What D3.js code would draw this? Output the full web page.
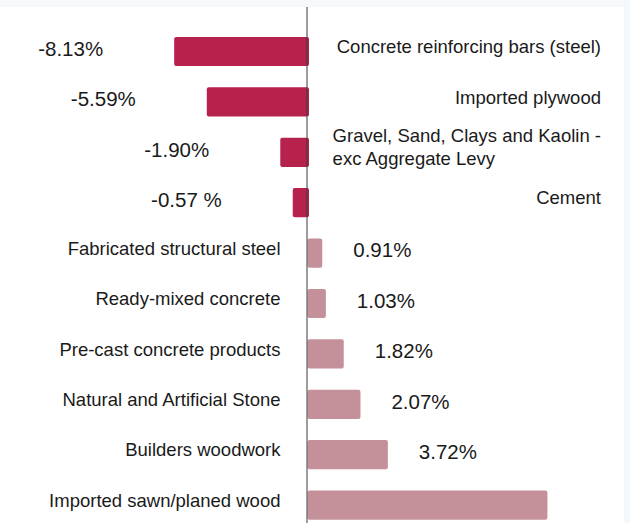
<!DOCTYPE html>
<html>
<head>
<meta charset="utf-8">
<script src="https://cdn.jsdelivr.net/npm/d3@7"></script>
<style>
    body { margin: 0; background: #f6f9fb; }
    #chart text { font-family: "Liberation Sans", Arial, sans-serif; fill: #1a1a1a; }
</style>
</head>
<body>
<div id="chart"></div>
<script>
// Categories, top to bottom
const categories = [
    "Concrete reinforcing bars (steel)",
    "Imported plywood",
    "Gravel, Sand, Clays and Kaolin -\nexc Aggregate Levy",
    "Cement",
    "Fabricated structural steel",
    "Ready-mixed concrete",
    "Pre-cast concrete products",
    "Natural and Artificial Stone",
    "Builders woodwork",
    "Imported sawn/planed wood"
];
// Bar lengths as drawn
const barValues = [-8.13, -6.14, -1.66, -0.90, 0.90, 1.12, 2.21, 3.23, 4.90, 14.63];
// Printed value labels
const valueLabels = ["-8.13%", "-5.59%", "-1.90%", "-0.57 %", "0.91%", "1.03%", "1.82%", "2.07%", "3.72%", null];

const width = 630, height = 523;

const svg = d3.select('#chart')
    .append('svg')
    .attr('width', width)
    .attr('height', height);

// white plot panel
svg.append('rect')
    .attr('x', 0)
    .attr('y', 7)
    .attr('width', 624)
    .attr('height', height - 7)
    .attr('fill', '#ffffff');

const xScale = d3.scaleLinear()
    .domain([-10, 15])
    .range([143.5, 553.5]);

const yScale = d3.scaleBand()
    .domain(d3.range(categories.length))
    .range([26.3, 530.3])
    .paddingInner(0.42)
    .paddingOuter(0.21);

const negColor = '#b7224c';
const posColor = '#c4909a';

// bars
svg.selectAll('rect.bar')
    .data(barValues)
    .enter()
    .append('rect')
    .attr('class', 'bar')
    .attr('x', d => d < 0 ? xScale(d) : xScale(0))
    .attr('width', d => Math.abs(xScale(d) - xScale(0)) + (d < 0 ? 1.5 : 0))
    .attr('y', (d, i) => yScale(i))
    .attr('height', yScale.bandwidth())
    .attr('rx', 2)
    .attr('fill', d => d < 0 ? negColor : posColor);

// zero line
svg.append('line')
    .attr('x1', xScale(0) - 0.5)
    .attr('x2', xScale(0) - 0.5)
    .attr('y1', 7)
    .attr('y2', height)
    .attr('stroke', '#3a3a3a')
    .attr('stroke-width', 1);

// value labels
const valueFont = 20.5;
svg.selectAll('text.value')
    .data(barValues.map((v, i) => ({v: v, label: valueLabels[i], i: i})).filter(d => d.label))
    .enter()
    .append('text')
    .attr('class', 'value')
    .attr('x', d => d.v < 0 ? xScale(d.v) - 71 : xScale(d.v) + 31)
    .attr('y', d => yScale(d.i) + yScale.bandwidth() / 2 - 3 + valueFont * 0.358)
    .attr('text-anchor', d => d.v < 0 ? 'end' : 'start')
    .style('font-size', valueFont + 'px')
    .text(d => d.label);

// category labels
const catFont = 18.5;
const lineHeight = 23;
categories.forEach((name, i) => {
    const lines = name.split('\n');
    const cy = yScale(i) + yScale.bandwidth() / 2 - 5;
    const firstBase = cy - (lines.length - 1) * lineHeight / 2 + catFont * 0.358;
    const t = svg.append('text')
        .attr('class', 'cat')
        .style('font-size', catFont + 'px');
    lines.forEach((ln, j) => {
        t.append('tspan')
            .attr('y', firstBase + j * lineHeight)
            .text(ln);
    });
    if (barValues[i] < 0) {
        // block of text, left-aligned, right edge near panel edge
        const w = d3.max(t.selectAll('tspan').nodes(), n => n.getComputedTextLength());
        t.selectAll('tspan').attr('x', 601 - w);
    } else {
        t.attr('text-anchor', 'end')
            .selectAll('tspan').attr('x', xScale(0) - 27);
    }
});
</script>
</body>
</html>
